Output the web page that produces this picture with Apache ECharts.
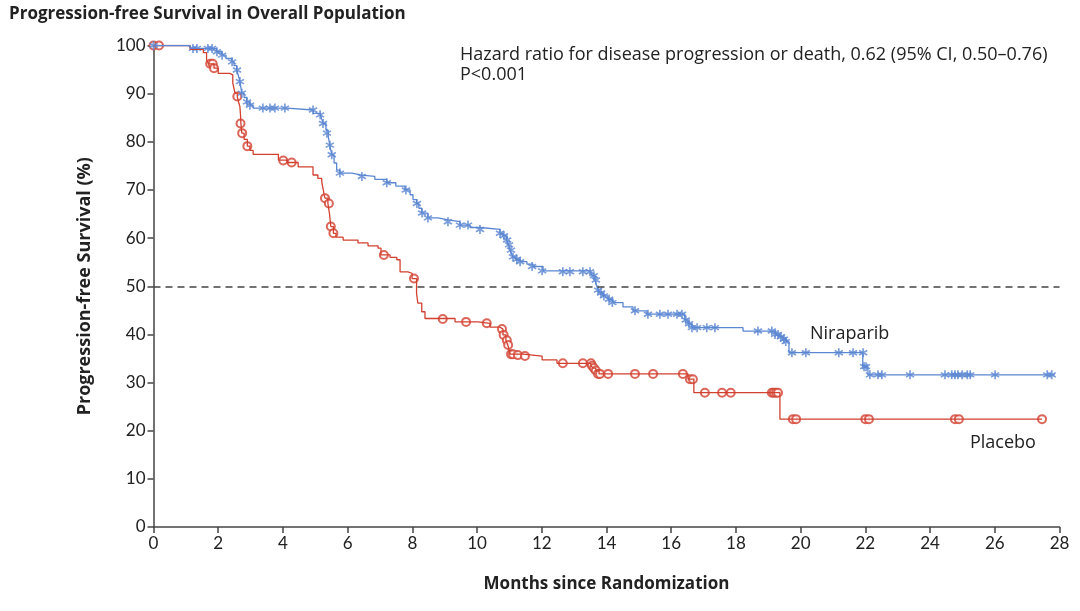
<!DOCTYPE html>
<html><head><meta charset="utf-8">
<script src="https://cdn.jsdelivr.net/npm/echarts@6/dist/echarts.min.js"></script>
<style>html,body{margin:0;padding:0;background:#fff}#c{width:1080px;height:611px}</style>
</head><body><div id="c"></div>
<script>
const xTicks = [0,2,4,6,8,10,12,14,16,18,20,22,24,26,28];
const yTicks = [0,10,20,30,40,50,60,70,80,90,100];

const niraparibCurve = [[0,100],[1.13,99.4],[1.95,98.7],[2.11,98.0],[2.24,97.3],[2.42,96.6],[2.49,95.8],[2.57,94.9],[2.63,93.6],[2.67,92.5],[2.73,90.1],[2.80,89.2],[2.88,88.3],[2.98,87.6],[3.08,87.0],[4.12,86.6],[4.94,85.9],[5.15,85.6],[5.20,84.7],[5.25,83.8],[5.33,82.4],[5.40,81.1],[5.45,79.3],[5.51,77.3],[5.58,75.6],[5.66,74.1],[5.76,73.5],[6.13,73.1],[6.43,72.8],[6.84,72.2],[7.21,71.5],[7.49,70.8],[7.77,70.0],[7.93,69.0],[8.02,68.0],[8.13,67.2],[8.20,66.2],[8.29,65.2],[8.48,64.2],[8.79,63.8],[9.10,63.4],[9.47,62.7],[9.78,62.2],[10.09,61.8],[10.71,61.0],[10.80,60.5],[10.91,59.6],[10.97,58.6],[11.02,57.5],[11.06,56.8],[11.11,56.1],[11.20,55.6],[11.33,55.1],[11.54,54.6],[11.73,54.1],[12.04,53.2],[13.49,53.0],[13.55,52.2],[13.64,51.3],[13.69,50.2],[13.74,49.2],[13.80,48.6],[13.89,48.0],[14.05,47.3],[14.20,46.6],[14.51,45.7],[14.82,44.9],[15.25,44.2],[16.42,43.0],[16.52,42.2],[16.64,41.4],[18.22,40.7],[19.24,40.0],[19.36,39.5],[19.48,39.0],[19.57,38.5],[19.64,36.2],[21.92,33.3],[22.08,31.6],[27.86,31.6]];

const placeboCurve = [[0,100],[1.13,99.2],[1.54,98.5],[1.64,97.0],[1.70,96.2],[1.87,95.3],[2.00,94.2],[2.36,93.9],[2.45,92.2],[2.49,91.0],[2.52,90.1],[2.59,89.4],[2.64,88.0],[2.67,87.3],[2.69,85.5],[2.70,83.8],[2.73,81.8],[2.80,80.5],[2.90,79.1],[2.98,78.2],[3.08,77.4],[3.86,76.2],[4.13,75.7],[4.47,74.8],[4.93,73.1],[5.08,72.4],[5.20,71.7],[5.24,70.3],[5.28,68.8],[5.30,68.3],[5.39,67.2],[5.44,65.0],[5.48,62.4],[5.56,61.0],[5.64,60.2],[5.86,59.6],[6.32,59.0],[6.63,58.4],[6.94,57.9],[7.03,56.5],[7.31,56.0],[7.52,55.5],[7.62,53.0],[7.86,52.7],[7.99,51.6],[8.13,48.5],[8.17,46.5],[8.29,44.7],[8.39,43.3],[9.32,42.6],[10.03,42.3],[10.40,41.5],[10.71,41.1],[10.80,39.9],[10.89,38.8],[10.95,37.8],[10.99,36.8],[11.02,35.9],[11.42,35.5],[12.01,34.7],[12.47,34.0],[13.52,33.5],[13.58,33.0],[13.67,32.5],[13.77,31.8],[16.52,30.7],[16.70,27.9],[19.36,22.4],[27.46,22.4]];

const niraparibCensored = [[0,100],[1.22,99.4],[1.34,99.4],[1.68,99.4],[1.81,99.4],[1.96,98.7],[2.12,98.0],[2.43,96.6],[2.58,94.9],[2.67,92.5],[2.73,90.1],[2.89,88.3],[2.98,87.6],[3.38,87.0],[3.60,87.0],[3.75,87.0],[4.06,87.0],[4.93,86.6],[5.15,85.6],[5.24,83.8],[5.36,81.8],[5.45,79.3],[5.51,77.3],[5.76,73.5],[6.44,72.8],[7.21,71.5],[7.80,70.0],[8.14,67.2],[8.30,65.2],[8.48,64.2],[9.10,63.4],[9.47,62.7],[9.72,62.7],[10.09,61.8],[10.71,61.0],[10.83,60.5],[10.93,59.6],[10.99,58.6],[11.05,57.5],[11.11,56.1],[11.23,55.6],[11.33,55.1],[11.70,54.1],[12.01,53.2],[12.65,53.0],[12.87,53.0],[13.27,53.0],[13.49,53.0],[13.61,52.2],[13.67,51.3],[13.74,49.2],[13.83,48.6],[13.92,48.0],[14.08,47.3],[14.18,46.6],[14.88,44.9],[15.28,44.2],[15.65,44.2],[15.90,44.2],[16.18,44.2],[16.33,44.2],[16.45,43.0],[16.55,42.2],[16.64,41.4],[16.80,41.4],[17.10,41.4],[17.35,41.4],[18.68,40.7],[19.11,40.7],[19.21,40.0],[19.30,40.0],[19.39,39.5],[19.48,39.0],[19.54,38.5],[19.73,36.2],[20.16,36.2],[21.18,36.2],[21.62,36.2],[21.93,36.2],[21.96,33.3],[22.02,33.3],[22.14,31.6],[22.39,31.6],[22.51,31.6],[23.38,31.6],[24.46,31.6],[24.67,31.6],[24.77,31.6],[24.86,31.6],[24.99,31.6],[25.15,31.6],[25.24,31.6],[26.01,31.6],[27.62,31.6],[27.76,31.6]];

const placeboCensored = [[0,100],[0.17,100],[1.75,96.2],[1.83,96.2],[1.87,95.3],[2.59,89.4],[2.69,83.8],[2.74,81.8],[2.90,79.1],[4.01,76.1],[4.27,75.7],[5.30,68.3],[5.42,67.2],[5.48,62.4],[5.56,61.0],[7.12,56.5],[8.05,51.6],[8.94,43.2],[9.66,42.6],[10.30,42.3],[10.77,41.1],[10.82,39.9],[10.92,38.8],[10.96,37.8],[11.05,35.9],[11.11,35.9],[11.26,35.7],[11.48,35.5],[12.65,34.0],[13.27,34.0],[13.52,34.0],[13.55,33.5],[13.61,33.0],[13.67,32.5],[13.74,31.8],[13.80,31.8],[14.05,31.8],[14.88,31.8],[15.44,31.8],[16.36,31.8],[16.58,30.7],[16.67,30.7],[17.04,27.9],[17.57,27.9],[17.84,27.9],[19.11,27.9],[19.17,27.9],[19.24,27.9],[19.30,27.9],[19.76,22.4],[19.86,22.4],[22.00,22.4],[22.11,22.4],[24.77,22.4],[24.89,22.4],[27.46,22.4]];

const BLUE = '#5a86d2', RED = '#d2402f', TXT = '#222';
const FONT = '"Open Sans", Lato, sans-serif';
const NUMFONT = 'Lato, "Open Sans", sans-serif';
const asterisk = 'path://M-0.9,-5L0.9,-5L0.9,5L-0.9,5Z M4.78,1.72L3.88,3.28L-4.78,-1.72L-3.88,-3.28Z M3.88,-3.28L4.78,-1.72L-3.88,3.28L-4.78,1.72Z';

const chart = echarts.init(document.getElementById('c'));
chart.setOption({
  animation:false,
  backgroundColor:'#fff',
  textStyle:{fontFamily:FONT},
  title:{text:'Progression-free Survival in Overall Population',left:4,top:1,
    textStyle:{fontFamily:FONT,fontSize:17,fontWeight:'bold',color:TXT}},
  grid:{left:153.5,right:20.5,top:45.5,bottom:84,containLabel:false},
  xAxis:{type:'value',min:0,max:28,interval:2,
    name:'Months since Randomization',nameLocation:'middle',nameGap:49,
    nameTextStyle:{fontFamily:FONT,fontSize:17,fontWeight:'bold',color:TXT},
    axisLine:{show:true,lineStyle:{color:'#444',width:1.5}},
    axisTick:{show:true,length:6,lineStyle:{color:'#444',width:1.5}},
    axisLabel:{fontFamily:NUMFONT,fontSize:17,color:TXT,margin:8,
      formatter:v=>xTicks.includes(v)?String(v):''},
    splitLine:{show:false}},
  yAxis:{type:'value',min:0,max:100,interval:10,
    name:'Progression-free Survival (%)',nameLocation:'middle',nameGap:60,nameRotate:90,
    nameTextStyle:{fontFamily:FONT,fontSize:18,fontWeight:'bold',color:TXT},
    axisLine:{show:true,lineStyle:{color:'#444',width:1.5}},
    axisTick:{show:true,length:6,lineStyle:{color:'#444',width:1.5}},
    axisLabel:{fontFamily:NUMFONT,fontSize:17,color:TXT,margin:8,
      formatter:v=>yTicks.includes(v)?String(v):''},
    splitLine:{show:false}},
  graphic:[
    {type:'text',left:460,top:46,style:{text:'Hazard ratio for disease progression or death, 0.62 (95% CI, 0.50\u20130.76)',font:'18px '+FONT,fill:TXT}},
    {type:'text',left:460,top:66,style:{text:'P<0.001',font:'18px '+FONT,fill:TXT}},
    {type:'text',left:810,top:325,style:{text:'Niraparib',font:'18px '+FONT,fill:TXT}},
    {type:'text',left:970,top:434,style:{text:'Placebo',font:'18px '+FONT,fill:TXT}}
  ],
  series:[
    {type:'line',name:'Placebo',data:placeboCurve,step:'end',showSymbol:false,symbol:'none',
      lineStyle:{color:RED,width:1.3},
      markLine:{silent:true,symbol:'none',label:{show:false},
        lineStyle:{color:'#444',width:1.5,type:[7,5]},data:[{yAxis:50}]}},
    {type:'line',name:'Niraparib',data:niraparibCurve,step:'end',showSymbol:false,symbol:'none',
      lineStyle:{color:BLUE,width:1.3}},
    {type:'scatter',data:placeboCensored,symbol:'emptyCircle',symbolSize:8,
      itemStyle:{color:RED,borderColor:RED,borderWidth:1.1}},
    {type:'scatter',data:niraparibCensored,symbol:asterisk,symbolSize:9,
      itemStyle:{color:BLUE}}
  ]
});
</script></body></html>
